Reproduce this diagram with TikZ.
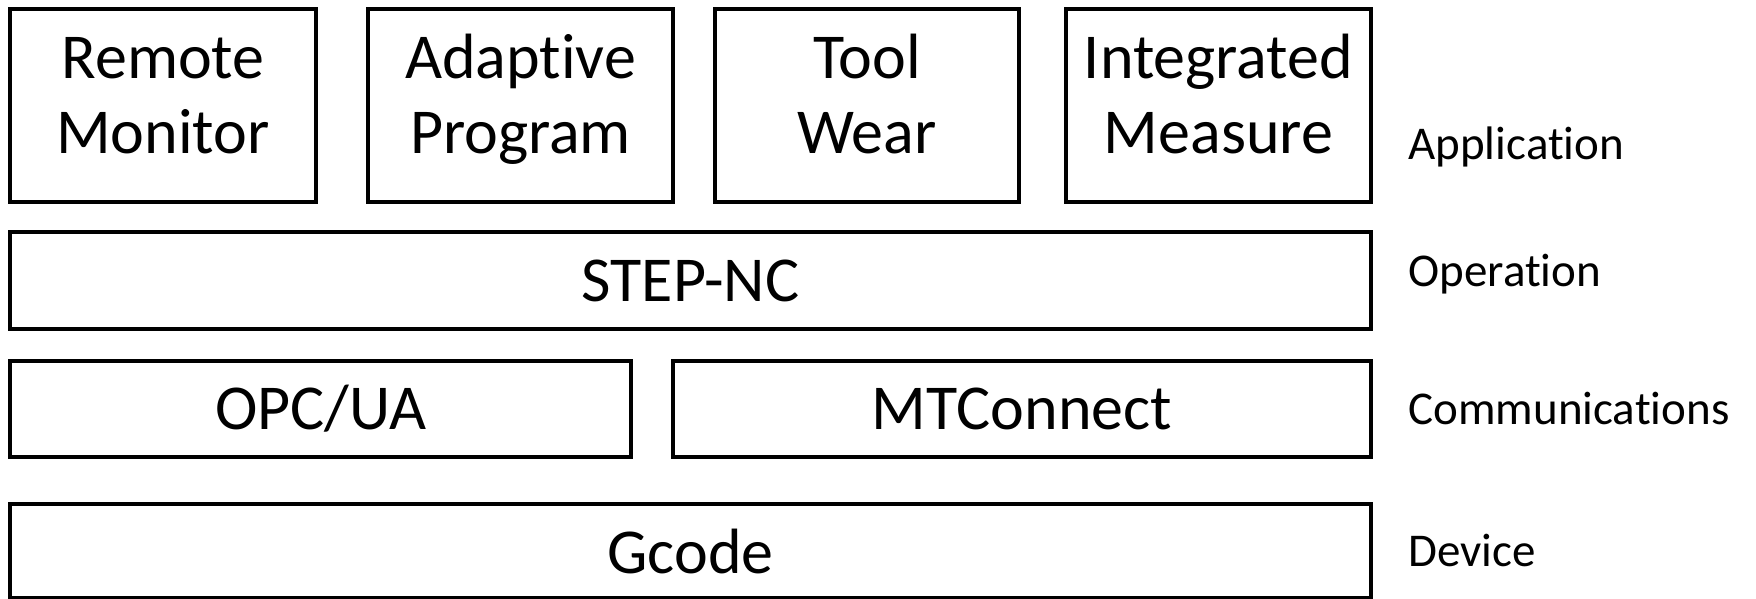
\documentclass[tikz,border=0pt]{standalone}
\usepackage{fontspec}
\setmainfont{Carlito}[Ligatures={NoCommon}]
\begin{document}
\begin{tikzpicture}[
  box/.style={draw=black, line width=2pt, rectangle, align=center, inner sep=0pt,
              font=\fontsize{32}{37.5}\selectfont},
  boxtext/.style={inner sep=0pt, font=\fontsize{32}{37.5}\selectfont},
  layer/.style={anchor=west, inner sep=0pt, font=\fontsize{23.5}{27}\selectfont}
]
\useasboundingbox (0pt,0pt) rectangle (878pt,-299.5pt);
\node[box, minimum width=153pt, minimum height=96.5pt] (rm) at (81.5pt,-52.75pt) {};
\node[box, minimum width=152.5pt, minimum height=96.5pt] (ap) at (260.25pt,-52.75pt) {};
\node[box, minimum width=152pt, minimum height=96.5pt] (tw) at (433.5pt,-52.75pt) {};
\node[box, minimum width=152.5pt, minimum height=96.5pt] (im) at (609.25pt,-52.75pt) {};
\node[boxtext] (rmt) at ([yshift=2pt]rm.center) {\begin{tabular}{@{}c@{}}Remote\\Monitor\end{tabular}};
\node[boxtext] (apt) at ([yshift=2pt]ap.center) {\begin{tabular}{@{}c@{}}Adaptive\\Program\end{tabular}};
\node[boxtext] (twt) at ([yshift=2pt]tw.center) {\begin{tabular}{@{}c@{}}Tool\\Wear\end{tabular}};
\node[boxtext] (imt) at ([yshift=2pt]im.center) {\begin{tabular}{@{}c@{}}Integrated\\Measure\end{tabular}};
\node[box, minimum width=680.5pt, minimum height=48.5pt] (step) at (345.25pt,-140.25pt) {STEP-NC};
\node[box, minimum width=310.5pt, minimum height=48pt] (opc) at (160.25pt,-204.5pt) {OPC/UA};
\node[box, minimum width=349pt, minimum height=48pt] (mtc) at (511pt,-204.5pt) {MTConnect};
\node[box, minimum width=680.5pt, minimum height=47pt] (gcode) at (345.25pt,-275.5pt) {Gcode};
\node[layer] (lapp) at (704pt,-73.5pt) {Application};
\node[layer] (lop) at (704pt,-137pt) {Operation};
\node[layer] (lcom) at (704pt,-204.5pt) {Communications};
\node[layer] (ldev) at (704pt,-275pt) {Device};
\end{tikzpicture}
\end{document}
